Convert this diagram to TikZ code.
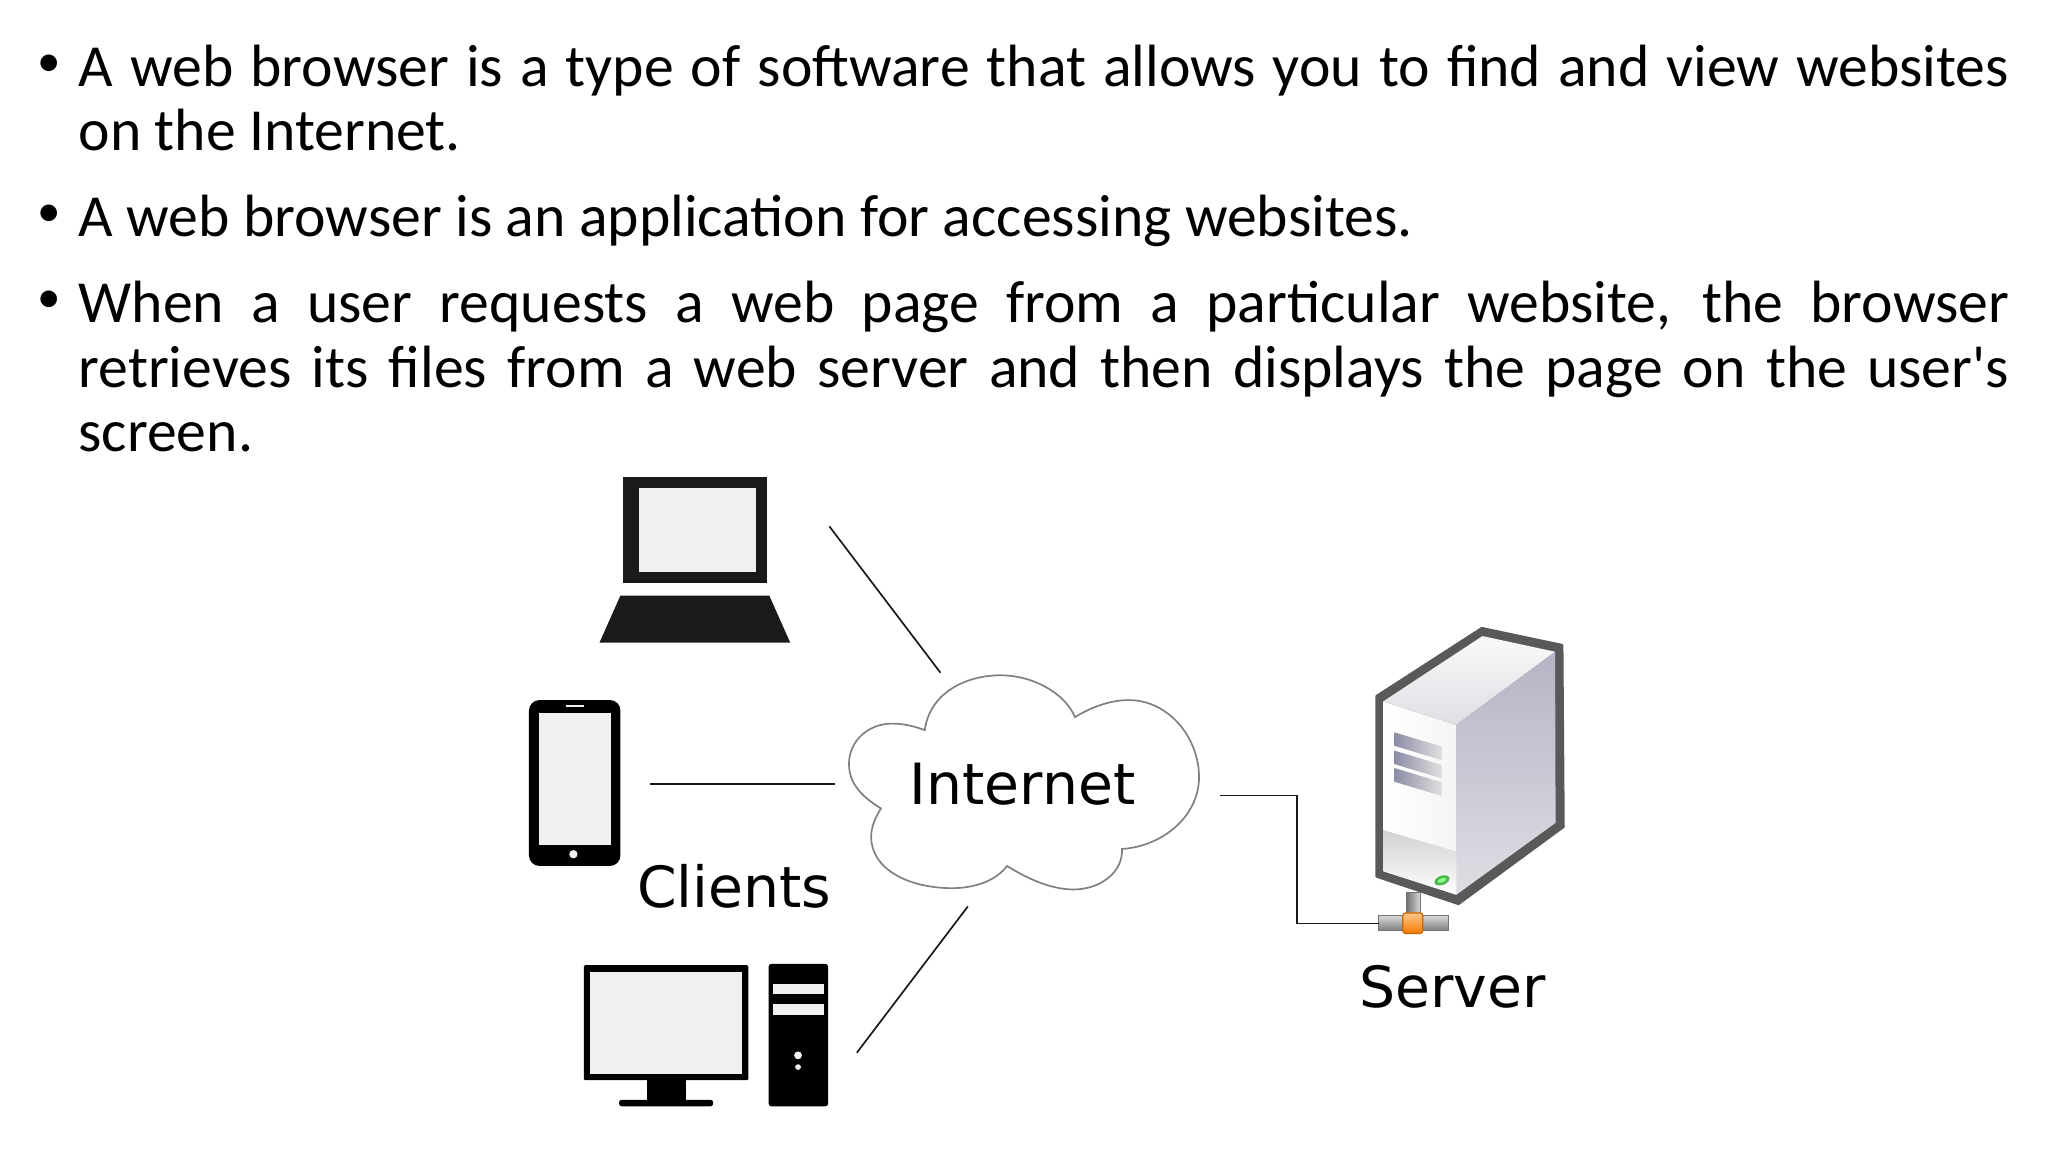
\documentclass[tikz,border=0pt]{standalone}
\usepackage{fontspec}
\setmainfont{Carlito}
\newfontfamily\labelfont{DejaVu Sans}
\definecolor{ecran}{HTML}{F0F0F0}
\definecolor{noirpc}{HTML}{1A1A1A}
\definecolor{flanc}{HTML}{B4B4C6}
\definecolor{flancclair}{HTML}{DEDEE4}
\definecolor{grille}{HTML}{8C8CA6}
\tikzset{
    puce/.style={anchor=center, inner sep=0pt, font=\fontsize{36}{49.5}\selectfont},
    paragraphe/.style={anchor=north west, inner sep=0pt, text width=1478pt, align=justify, font=\fontsize{45.7}{49.5}\selectfont},
    legende/.style={anchor=base, inner sep=0pt, font=\labelfont\fontsize{43.5}{50}\selectfont, text=black},
    liaison/.style={draw=black!90, line width=1.3pt}
}
\begin{document}
\begin{tikzpicture}[x=1pt,y=-1pt]
    \useasboundingbox (0,0) rectangle (1568,882);

    % Texte à puces
    \node[puce] (p1) at (38,50) {•};
    \node[paragraphe] (t1) at (60,34) {A web browser is a type of software that allows you to find and view websites\linebreak on the Internet.};
    \node[puce] (p2) at (38,165) {•};
    \node[paragraphe] (t2) at (60,149) {A web browser is an application for accessing websites.};
    \node[puce] (p3) at (38,231) {•};
    \node[paragraphe] (t3) at (60,215) {When a user requests a web page from a particular website, the browser\linebreak retrieves its files from a web server and then displays the page on the user\textquotesingle s\linebreak screen.};

    % Ordinateur portable
    \fill[noirpc] (477,365) rectangle (587,446);
    \fill[ecran] (489,374) rectangle (579,438);
    \fill[noirpc] (475,456) -- (589,456) -- (605,492) -- (459,492) -- cycle;

    % Téléphone
    \fill[black, rounded corners=8pt] (405,536) rectangle (475,663);
    \fill[ecran] (413,546) rectangle (468,647);
    \fill[ecran] (433,539.5) rectangle (447,541);
    \fill[ecran] (439,654) circle[radius=3.2pt];

    % Ordinateur de bureau
    \fill[black, rounded corners=1pt] (447,739) rectangle (573,827);
    \fill[ecran] (452,744) rectangle (568,822);
    \fill[black] (495,827) rectangle (525,842);
    \fill[black, rounded corners=2pt] (474,842) rectangle (546,847);
    \fill[black, rounded corners=2pt] (588.5,738) rectangle (634,847);
    \fill[ecran] (592,753) rectangle (631,761);
    \fill[ecran] (592,769) rectangle (631,777);
    \fill[ecran] (611,808) circle[radius=3pt];
    \fill[ecran] (611,817) circle[radius=2.2pt];

    % Nuage
    \draw[draw=black!50, line width=1.3pt, fill=white] (708,559)
        .. controls (712,530) and (740,517) .. (766,517)
        .. controls (790,517) and (815,530) .. (823,549)
        .. controls (838,540) and (852,536) .. (864,536)
        .. controls (895,536) and (918,565) .. (918,595)
        .. controls (918,625) and (890,648) .. (859,650)
        .. controls (860,668) and (842,681) .. (822,681)
        .. controls (805,681) and (787,673) .. (771,663)
        .. controls (762,675) and (745,680) .. (729,680)
        .. controls (695,680) and (667,665) .. (667,641)
        .. controls (667,633) and (670,626) .. (674.5,619)
        .. controls (660,610) and (650,600) .. (650,585)
        .. controls (650,567) and (665,554) .. (683,554)
        .. controls (692,554) and (700,556) .. (708,559) -- cycle;

    % Serveur : contour et faces
    \fill[black!65, draw=black!65, line width=2pt, line join=round] (1134.5,481) -- (1196,494) -- (1197,633) -- (1116.6,692) -- (1054,671) -- (1054,533) -- cycle;
    \shade[left color=white, right color=black!4] (1059,537) -- (1115,555) -- (1115,685) -- (1059,667) -- cycle;
    \shade[top color=black!2, bottom color=flancclair] (1059,537) -- (1135,487) -- (1190.6,499) -- (1115,555) -- cycle;
    \shade[left color=flancclair, right color=flanc, shading angle=0, top color=flanc, bottom color=flancclair] (1115,555) -- (1190.6,499) -- (1191,630) -- (1115,685) -- cycle;
    \shade[top color=black!18, bottom color=white] (1059,635.5) -- (1115,652) -- (1115,685) -- (1059,667) -- cycle;
    \shade[left color=grille, right color=black!12] (1067.6,560.7) -- (1104,571.6) -- (1104,582) -- (1067.6,571) -- cycle;
    \shade[left color=grille, right color=black!12] (1067.6,574.7) -- (1104,585.7) -- (1104,596) -- (1067.6,585) -- cycle;
    \shade[left color=grille, right color=black!12] (1067.6,588) -- (1104,599) -- (1104,609.5) -- (1067.6,598.5) -- cycle;
    \fill[green!60!black!70, rotate around={20:(1104,674)}] (1104,674) ellipse[x radius=6pt, y radius=3.5pt];
    \fill[green!45, rotate around={20:(1104,674)}] (1104,674) ellipse[x radius=3.5pt, y radius=1.6pt];

    % Prise réseau
    \shade[left color=black!55, right color=black!15, draw=black!55, line width=.6pt] (1077,683) rectangle (1087.3,703);
    \shade[top color=black!15, bottom color=black!50, draw=black!55, line width=.6pt] (1055.4,701) rectangle (1109,712);
    \shade[top color=orange!45, bottom color=orange!95!black, draw=orange!80!black, line width=1pt, rounded corners=2pt] (1074,699) rectangle (1089.3,714.6);

    % Légendes
    \node[legende] (internet) at (783,616) {Internet};
    \node[legende] (clients) at (562,695) {Clients};
    \node[legende] (server) at (1112,771) {Server};

    % Extrémités des liaisons
    \coordinate (L1) at (635,403);
    \coordinate (L2) at (720,515);
    \coordinate (T1) at (498,600);
    \coordinate (T2) at (639,600);
    \coordinate (B1) at (656,806);
    \coordinate (B2) at (741,694);
    \coordinate (S1) at (934,609);
    \coordinate (S2) at (1055.4,707);

    % Tracé des liaisons
    \draw[liaison] (L1) -- (L2);
    \draw[liaison] (T1) -- (T2);
    \draw[liaison] (B1) -- (B2);
    \draw[liaison] (S1) -- (993,609) -- (993,707) -- (S2);
\end{tikzpicture}
\end{document}
